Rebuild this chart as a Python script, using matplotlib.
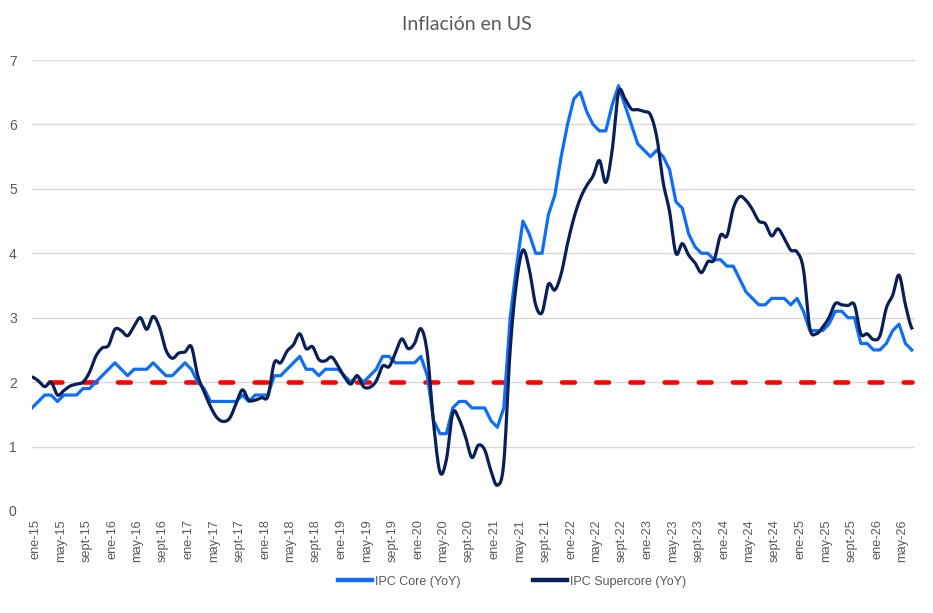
import numpy as np
import matplotlib.pyplot as plt
import matplotlib.transforms as mtransforms

# meses (ene-15 ... jul-26)
month_names = ['ene', 'feb', 'mar', 'abr', 'may', 'jun', 'jul', 'ago', 'sept', 'oct', 'nov', 'dic']
years = list(range(15, 27))
n_months = 139

# IPC Core (YoY)
core = [1.6, 1.7, 1.8, 1.8, 1.7, 1.8, 1.8, 1.8, 1.9, 1.9, 2.0, 2.1,
        2.2, 2.3, 2.2, 2.1, 2.2, 2.2, 2.2, 2.3, 2.2, 2.1, 2.1, 2.2,
        2.3, 2.2, 2.0, 1.9, 1.7, 1.7, 1.7, 1.7, 1.7, 1.8, 1.7, 1.8,
        1.8, 1.8, 2.1, 2.1, 2.2, 2.3, 2.4, 2.2, 2.2, 2.1, 2.2, 2.2,
        2.2, 2.1, 2.0, 2.1, 2.0, 2.1, 2.2, 2.4, 2.4, 2.3, 2.3, 2.3,
        2.3, 2.4, 2.1, 1.4, 1.2, 1.2, 1.6, 1.7, 1.7, 1.6, 1.6, 1.6,
        1.4, 1.3, 1.6, 3.0, 3.8, 4.5, 4.3, 4.0, 4.0, 4.6, 4.9, 5.5,
        6.0, 6.4, 6.5, 6.2, 6.0, 5.9, 5.9, 6.3, 6.6, 6.3, 6.0, 5.7,
        5.6, 5.5, 5.6, 5.5, 5.3, 4.8, 4.7, 4.3, 4.1, 4.0, 4.0, 3.9,
        3.9, 3.8, 3.8, 3.6, 3.4, 3.3, 3.2, 3.2, 3.3, 3.3, 3.3, 3.2,
        3.3, 3.1, 2.8, 2.8, 2.8, 2.9, 3.1, 3.1, 3.0, 3.0, 2.6, 2.6,
        2.5, 2.5, 2.6, 2.8, 2.9, 2.6, 2.5]

# IPC Supercore (YoY)
supercore = [2.08, 2.02, 1.93, 2.0, 1.8, 1.87, 1.94, 1.97, 2.0, 2.15, 2.4, 2.53,
             2.57, 2.82, 2.8, 2.72, 2.87, 3.0, 2.82, 3.02, 2.85, 2.5, 2.37, 2.45,
             2.47, 2.55, 2.1, 1.85, 1.62, 1.45, 1.39, 1.44, 1.66, 1.88, 1.72, 1.72,
             1.76, 1.78, 2.3, 2.3, 2.48, 2.58, 2.75, 2.52, 2.55, 2.35, 2.33, 2.39,
             2.25, 2.08, 1.97, 2.1, 1.93, 1.92, 2.02, 2.25, 2.24, 2.45, 2.67, 2.52,
             2.6, 2.83, 2.45, 1.35, 0.6, 0.8, 1.52, 1.42, 1.15, 0.83, 1.02, 0.95,
             0.62, 0.4, 0.75, 2.5, 3.55, 4.05, 3.75, 3.2, 3.08, 3.52, 3.43, 3.68,
             4.15, 4.55, 4.85, 5.05, 5.2, 5.44, 5.1, 5.6, 6.5, 6.4, 6.24, 6.23,
             6.2, 6.15, 5.8, 5.1, 4.65, 4.0, 4.15, 3.97, 3.85, 3.7, 3.87, 3.9,
             4.28, 4.27, 4.7, 4.88, 4.82, 4.68, 4.5, 4.46, 4.27, 4.38, 4.23, 4.05,
             4.02, 3.75, 2.84, 2.75, 2.85, 3.0, 3.22, 3.2, 3.19, 3.2, 2.75, 2.75,
             2.66, 2.72, 3.15, 3.35, 3.66, 3.2, 2.84]

target = 2.0


def smooth(y, n=16):
    # curva suavizada tipo Excel (bezier con tangentes catmull-rom)
    y = np.asarray(y, float)
    yp = np.concatenate([[y[0]], y, [y[-1]]])
    p0, p1, p2, p3 = yp[:-3], yp[1:-2], yp[2:-1], yp[3:]
    c1 = p1 + (p2 - p0) / 6
    c2 = p2 - (p3 - p1) / 6
    t = np.linspace(0, 1, n, endpoint=False)[:, None]
    ys = (1 - t)**3 * p1 + 3 * (1 - t)**2 * t * c1 + 3 * (1 - t) * t**2 * c2 + t**3 * p2
    xs = np.arange(len(y) - 1)[None, :] + t
    xs = np.append(xs.T.ravel(), len(y) - 1)
    ys = np.append(ys.T.ravel(), y[-1])
    return xs, ys


labels = [month_names[i % 12] + '-' + str(years[i // 12]) for i in range(n_months)]
x = np.arange(n_months)

plt.rcParams['lines.scale_dashes'] = False
fig = plt.figure(figsize=(9.33, 6.13), dpi=100)
ax = fig.add_axes([32 / 933, 1 - 511 / 613, 883 / 933, 451 / 613])

ax.plot(x, [target] * n_months, color='#FF0000', lw=3.3, linestyle=(12.3, (9.2, 15.4)),
        dash_capstyle='round', zorder=2)
ax.plot(x, core, color='#0F6EF5', lw=2.3, solid_joinstyle='round', label='IPC Core (YoY)', zorder=3)
sx, sy = smooth(supercore)
ax.plot(sx, sy, color='#0B1F57', lw=2.3, label='IPC Supercore (YoY)', zorder=4)

ax.set_xlim(0, 138.5)
ax.set_ylim(0, 7)
ax.set_yticks(range(8))
ax.set_xticks(x[::4])
ax.set_xticklabels(labels[::4], rotation=90, fontsize=9.2, color='#595959', family='Liberation Sans')
ax.tick_params(axis='both', length=0)
ax.tick_params(axis='y', pad=11, labelsize=10, labelcolor='#595959')
ax.tick_params(axis='x', pad=6)
for lab in ax.get_yticklabels():
    lab.set_family('Liberation Sans')
shift = mtransforms.ScaledTranslation(3.5 / 100, 0, fig.dpi_scale_trans)
for lab in ax.get_xticklabels():
    lab.set_transform(lab.get_transform() + shift)
ax.grid(axis='y', color='#D9D9D9', lw=1)
ax.set_axisbelow(True)
for s in ax.spines.values():
    s.set_visible(False)

fig.text(0.5, 1 - 25 / 613, 'Inflación en US', ha='center', va='center', fontsize=14,
         color='#595959', family='Lato')

fig.legend(loc='center', bbox_to_anchor=(0.5488, 1 - 581.5 / 613), ncol=2, frameon=False,
           handlelength=2.75, columnspacing=5.8, handletextpad=0.2,
           prop={'family': 'Liberation Sans', 'size': 9}, labelcolor='#595959')
for line in fig.legends[0].get_lines():
    line.set_linewidth(3.2)

fig.savefig('out.png', dpi=100)
